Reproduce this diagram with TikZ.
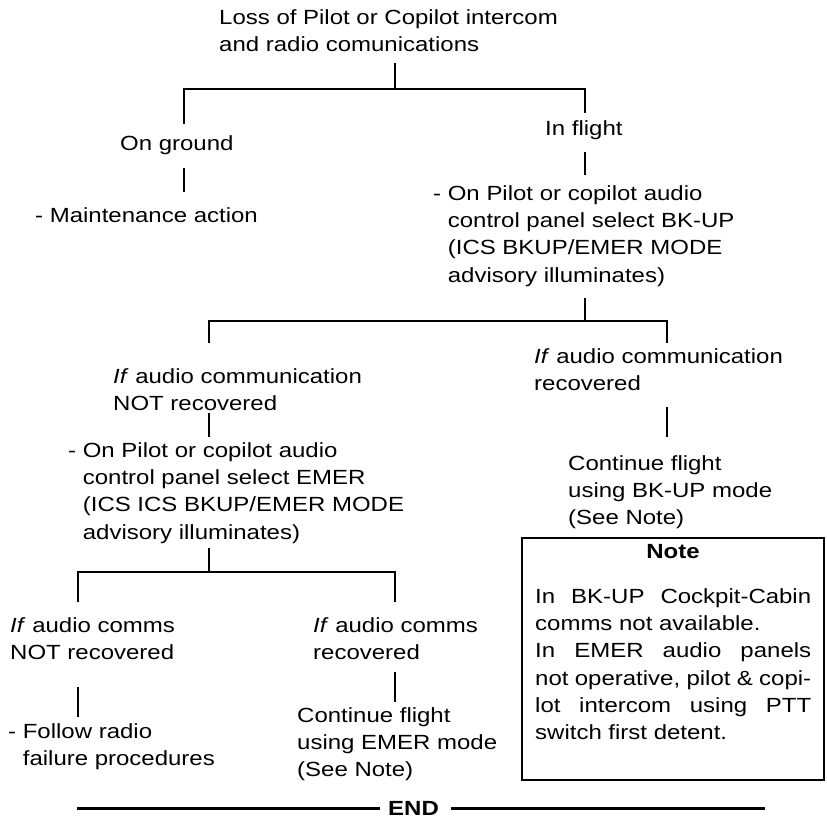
\documentclass[tikz,border=0pt]{standalone}
\usepackage{fontspec}
\setmainfont{Liberation Sans}[FakeStretch=1.17]
% strut that fixes the height of a block's first line
\newcommand\firstline{\rule{0pt}{20pt}}
\newcommand\hang{\phantom{- }}
\begin{document}
\begin{tikzpicture}[x=1pt,y=-1pt,
  txt/.style={anchor=north west,inner sep=0pt,align=left,
    font=\fontsize{20.5}{27.3}\selectfont},
  wire/.style={line width=2pt},
  endrule/.style={line width=3pt},
  notebox/.style={draw,line width=2pt,minimum width=302pt,minimum height=242pt,inner sep=0pt}]
\useasboundingbox (0,0) rectangle (827,818);

% ---- text blocks (placed by first baseline - 20) ----
\node[txt] (loss) at (219,4) {\firstline Loss of Pilot or Copilot intercom\\and radio comunications};
\node[txt] (ground) at (120,130) {\firstline On ground};
\node[txt] (flight) at (545,115) {\firstline In flight};
\node[txt] (maint) at (35,202) {\firstline - Maintenance action};
\node[txt] (bkup) at (433,180) {\firstline - On Pilot or copilot audio\\\hang control panel select BK-UP\\\hang (ICS BKUP/EMER MODE\\\hang advisory illuminates)};
\node[txt] (notrec) at (113,363) {\firstline\textit{If} audio communication\\NOT recovered};
\node[txt] (rec) at (534,343) {\firstline\textit{If} audio communication\\recovered};
\node[txt] (emer) at (68,437) {\firstline - On Pilot or copilot audio\\\hang control panel select EMER\\\hang (ICS ICS BKUP/EMER MODE\\\hang advisory illuminates)};
\node[txt] (contbk) at (568,450) {\firstline Continue flight\\using BK-UP mode\\(See Note)};
\node[txt] (cnotrec) at (10,612) {\firstline\textit{If} audio comms\\NOT recovered};
\node[txt] (crec) at (313,612) {\firstline\textit{If} audio comms\\recovered};
\node[txt] (radio) at (8,718) {\firstline - Follow radio\\\hang failure procedures};
\node[txt] (contem) at (297,702) {\firstline Continue flight\\using EMER mode\\(See Note)};

% ---- note box ----
\node[notebox] (note) at (673,659) {};
\node[anchor=base,inner sep=0pt,font=\fontsize{20.5}{27.3}\selectfont\bfseries] (notetitle) at (673,558) {Note};
\node[txt] (notebody) at (535,583) {\firstline\makebox[276pt][s]{In BK-UP Cockpit-Cabin}\\
  comms not available.\\
  \makebox[276pt][s]{In EMER audio panels}\\
  \makebox[276pt][s]{not operative, pilot \& copi-}\\
  \makebox[276pt][s]{lot intercom using PTT}\\
  switch first detent.};

% ---- connector points ----
\coordinate (s0) at (395,63);   \coordinate (j0) at (395,89);
\coordinate (g0) at (184,89);   \coordinate (g1) at (184,124);
\coordinate (f0) at (585,89);   \coordinate (f1) at (585,113);
\coordinate (g2) at (184,168);  \coordinate (g3) at (184,192);
\coordinate (f2) at (585,152);  \coordinate (f3) at (585,175);
\coordinate (b0) at (585,298);  \coordinate (j1) at (585,321);
\coordinate (n0) at (209,321);  \coordinate (n1) at (209,343);
\coordinate (r0) at (667,321);  \coordinate (r1) at (667,343);
\coordinate (n2) at (209,413);  \coordinate (n3) at (209,437);
\coordinate (r2) at (667,407);  \coordinate (r3) at (667,437);
\coordinate (e0) at (209,548);  \coordinate (j2) at (209,572);
\coordinate (p0) at (78,572);   \coordinate (p1) at (78,602);
\coordinate (q0) at (395,572);  \coordinate (q1) at (395,602);
\coordinate (p2) at (78,687);   \coordinate (p3) at (78,717);
\coordinate (q2) at (395,672);  \coordinate (q3) at (395,702);

% ---- tree connectors ----
\draw[wire] (s0) -- (j0);
\draw[wire] (g1) -- (g0) -- (f0) -- (f1);
\draw[wire] (g2) -- (g3);
\draw[wire] (f2) -- (f3);
\draw[wire] (b0) -- (j1);
\draw[wire] (n1) -- (n0) -- (r0) -- (r1);
\draw[wire] (n2) -- (n3);
\draw[wire] (r2) -- (r3);
\draw[wire] (e0) -- (j2);
\draw[wire] (p1) -- (p0) -- (q0) -- (q1);
\draw[wire] (p2) -- (p3);
\draw[wire] (q2) -- (q3);

% ---- end marker ----
\node[anchor=base west,inner sep=0pt,font=\fontsize{20.5}{27.3}\selectfont\bfseries] (end) at (388,815) {END};
\coordinate (el) at (77,808);
\coordinate (er) at (765,808);
\draw[endrule,shorten >=8pt] (el) -- (el -| end.west);
\draw[endrule,shorten <=12pt] (end.east |- er) -- (er);
\end{tikzpicture}
\end{document}
